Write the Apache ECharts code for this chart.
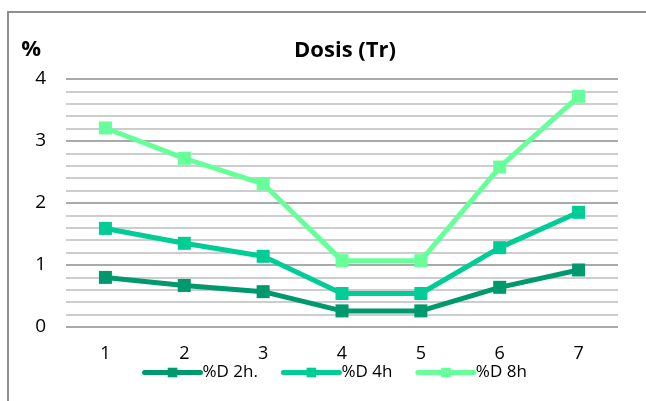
<!DOCTYPE html>
<html>
<head>
<meta charset="utf-8">
<script src="https://cdn.jsdelivr.net/npm/echarts@6/dist/echarts.min.js"></script>
<style>
  html, body { margin: 0; padding: 0; background: #fff; }
  #chart { width: 646px; height: 401px; }
</style>
</head>
<body>
<div id="chart"></div>
<script>
// 数据
var categories = ['1', '2', '3', '4', '5', '6', '7']
var seriesNames = ['%D 2h.', '%D 4h', '%D 8h']
var d2h = [0.80, 0.67, 0.57, 0.26, 0.26, 0.64, 0.92]
var d4h = [1.59, 1.35, 1.14, 0.54, 0.54, 1.28, 1.85]
var d8h = [3.21, 2.72, 2.31, 1.07, 1.07, 2.58, 3.72]
var colors = ['#00996e', '#00cc96', '#66ff99']

var chart = echarts.init(document.getElementById('chart'))

function lineSeries(name, data, color) {
  return {
    name: name,
    type: 'line',
    data: data,
    symbol: 'rect',
    symbolSize: 13,
    color: color,
    lineStyle: { width: 5, color: color },
    itemStyle: { color: color },
    emphasis: { disabled: true },
  }
}

var option = {
  animation: false,
  textStyle: { fontFamily: 'Open Sans' },
  title: {
    text: 'Dosis (Tr)',
    left: 340,
    textAlign: 'center',
    top: 35,
    textStyle: { fontSize: 22, fontWeight: 'bold', color: '#000', fontFamily: 'Open Sans' },
  },
  legend: {
    left: 137,
    top: 359,
    itemWidth: 56,
    itemHeight: 12,
    itemGap: 23,
    lineStyle: { width: 5, cap: 'round' },
    textStyle: { fontSize: 17, color: '#000', padding: [0, 0, 0, -3] },
    data: seriesNames,
  },
  grid: {
    left: 66,
    right: 28,
    top: 79,
    bottom: 74,
  },
  xAxis: {
    type: 'category',
    data: categories,
    axisLine: { show: false },
    axisTick: { show: false },
    axisLabel: { fontSize: 18, color: '#000', margin: 18 },
  },
  yAxis: {
    type: 'value',
    min: 0,
    max: 4,
    interval: 1,
    name: '%',
    nameGap: 18,
    nameTextStyle: { fontSize: 22, fontWeight: 'bold', color: '#000', align: 'right', padding: [0, 25, 0, 0] },
    axisLine: { show: false },
    axisTick: { show: false },
    axisLabel: { fontSize: 19, color: '#000', margin: 20 },
    splitLine: { lineStyle: { color: '#8c8c8c', width: 1.5 } },
    minorSplitLine: { show: true, lineStyle: { color: '#bdbdbd', width: 1.5 } },
    minorTick: { show: false, splitNumber: 5 },
  },
  graphic: [
    {
      type: 'polyline',
      shape: { points: [[8, 401], [8, 12], [646, 12]] },
      style: { stroke: '#8f8f8f', lineWidth: 2, fill: null },
    },
  ],
  series: [
    lineSeries(seriesNames[0], d2h, colors[0]),
    lineSeries(seriesNames[1], d4h, colors[1]),
    lineSeries(seriesNames[2], d8h, colors[2]),
  ],
}
chart.setOption(option)
</script>
</body>
</html>
